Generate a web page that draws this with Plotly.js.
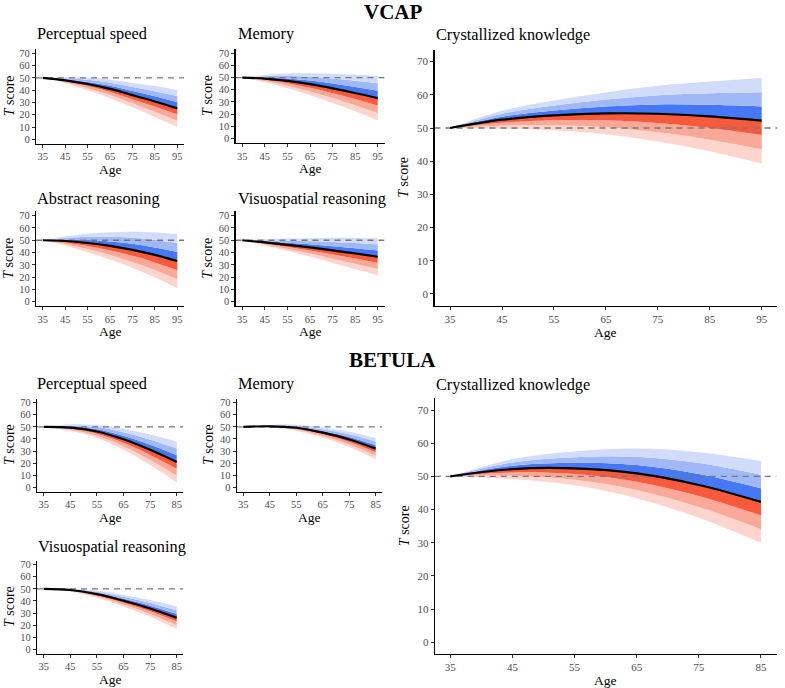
<!DOCTYPE html>
<html>
<head>
<meta charset="utf-8">
<script src="https://cdn.plot.ly/plotly-3.0.1.min.js"></script>
<style>html,body{margin:0;padding:0;background:#fff;}#chart{width:785px;height:688px;}</style>
</head>
<body>
<div id="chart"></div>
<script>
// ---------- Data ----------
const vcapAges = [35, 45, 55, 65, 75, 85, 95];
const betulaAges = [35, 45, 55, 65, 75, 85];
const vcapAgeTicks = [35, 45, 55, 65, 75, 85, 95];
const betulaAgeTicks = [35, 45, 55, 65, 75, 85];
const scoreTicks = [0, 10, 20, 30, 40, 50, 60, 70];
const referenceScore = 50;

// mean T score trajectory and width of one band step (bands at 1, 2, 3 steps)
const vcapPerceptualMean   = [50, 48.0, 45.0, 41.0, 36.0, 30.8, 25.2];
const vcapPerceptualSpread = [0, 0.8, 1.7, 2.5, 3.3, 4.2, 5.0];
const vcapMemoryMean       = [50, 49.2, 47.3, 44.6, 41.2, 37.4, 33.2];
const vcapMemorySpread     = [0, 1.0, 2.0, 3.0, 4.0, 5.0, 6.1];
const vcapAbstractMean     = [50, 49.4, 47.8, 45.4, 42.2, 38.1, 33.1];
const vcapAbstractSpread   = [0, 1.2, 2.5, 3.7, 4.9, 6.1, 7.4];
const vcapVisuoMean        = [50, 48.3, 46.3, 44.2, 41.8, 39.3, 36.6];
const vcapVisuoSpread      = [0, 0.85, 1.7, 2.5, 3.4, 4.2, 5.0];
const vcapCrystalMean      = [50, 52.5, 53.8, 54.4, 54.3, 53.5, 52.2];
const vcapCrystalSpread    = [0, 0.9, 1.5, 2.1, 2.8, 3.5, 4.3];

const betulaPerceptualMean   = [50, 49.4, 46.2, 39.7, 31.0, 20.9];
const betulaPerceptualSpread = [0, 0.9, 1.8, 2.9, 4.2, 5.65];
const betulaMemoryMean       = [50, 50.5, 49.3, 45.2, 39.6, 32.0];
const betulaMemorySpread     = [0, 0.35, 0.8, 1.4, 2.1, 2.9];
const betulaVisuoMean        = [50, 49.1, 45.6, 40.2, 33.8, 26.1];
const betulaVisuoSpread      = [0, 0.4, 1.0, 1.6, 2.3, 3.1];
const betulaCrystalMean      = [50, 52.2, 52.4, 50.9, 47.4, 42.3];
const betulaCrystalSpread    = [0, 1.0, 1.7, 2.5, 3.3, 4.1];

// ---------- Styling / layout ----------
const W = 785, H = 688;
const FONT = '"Liberation Serif", "Times New Roman", serif';
const redShades  = ['rgb(253,213,205)', 'rgb(250,168,152)', 'rgb(250,90,60)'];   // outer -> inner
const blueShades = ['rgb(70,120,245)', 'rgb(160,184,248)', 'rgb(208,220,250)'];  // inner -> outer

const panels = [
  {title:'Perceptual speed',       ages:vcapAges,   ticks:vcapAgeTicks,   mean:vcapPerceptualMean,   spread:vcapPerceptualSpread,   box:[36,184,49,143.6],     tx:35,  ty:34,  yt:9},
  {title:'Memory',                 ages:vcapAges,   ticks:vcapAgeTicks,   mean:vcapMemoryMean,       spread:vcapMemorySpread,       box:[235.5,384.5,49,142.8], tx:236, ty:34,  yt:208},
  {title:'Abstract reasoning',     ages:vcapAges,   ticks:vcapAgeTicks,   mean:vcapAbstractMean,     spread:vcapAbstractSpread,     box:[36,184,211.4,306],    tx:35,  ty:198, yt:9},
  {title:'Visuospatial reasoning', ages:vcapAges,   ticks:vcapAgeTicks,   mean:vcapVisuoMean,        spread:vcapVisuoSpread,        box:[235.5,384.5,211.4,306], tx:236, ty:198, yt:208},
  {title:'Crystallized knowledge', ages:vcapAges,   ticks:vcapAgeTicks,   mean:vcapCrystalMean,      spread:vcapCrystalSpread,      box:[434.5,777.3,50,305.6], tx:433.5, ty:35, yt:404, big:true},
  {title:'Perceptual speed',       ages:betulaAges, ticks:betulaAgeTicks, mean:betulaPerceptualMean, spread:betulaPerceptualSpread, box:[37,183.4,398.5,491.5], tx:35, ty:383.5, yt:9},
  {title:'Memory',                 ages:betulaAges, ticks:betulaAgeTicks, mean:betulaMemoryMean,     spread:betulaMemorySpread,     box:[236.7,382.3,398.5,491.5], tx:236, ty:383.5, yt:208},
  {title:'Visuospatial reasoning', ages:betulaAges, ticks:betulaAgeTicks, mean:betulaVisuoMean,      spread:betulaVisuoSpread,      box:[37,183.4,560.5,653.5], tx:36, ty:546, yt:9},
  {title:'Crystallized knowledge', ages:betulaAges, ticks:betulaAgeTicks, mean:betulaCrystalMean,    spread:betulaCrystalSpread,    box:[434.8,776.5,398.4,653.9], tx:433.5, ty:384, yt:404, big:true}
];

const px = p => p / W;
const py = p => 1 - p / H;
const expand = arr => {
  const lo = Math.min(...arr), hi = Math.max(...arr), d = (hi - lo) * 0.05;
  return [lo - d, hi + d];
};

const traces = [];
const layout = {
  width: W, height: H,
  margin: {l:0, r:0, t:0, b:0},
  paper_bgcolor: '#fff', plot_bgcolor: '#fff',
  showlegend: false,
  font: {family: FONT, color: '#000'},
  annotations: []
};

panels.forEach((p, i) => {
  const n = i + 1;
  const xa = n === 1 ? 'x' : 'x' + n;
  const ya = n === 1 ? 'y' : 'y' + n;
  const xr = expand(p.ages);
  const band = k => p.mean.map((m, j) => m + k * p.spread[j]);
  const common = {x: p.ages, xaxis: xa, yaxis: ya, mode: 'lines', hoverinfo: 'skip',
                  line: {width: 0, shape: 'spline', smoothing: 1}};
  // lower bands (red) and upper bands (blue)
  traces.push(Object.assign({}, common, {y: band(-3)}));
  traces.push(Object.assign({}, common, {y: band(-2), fill: 'tonexty', fillcolor: redShades[0]}));
  traces.push(Object.assign({}, common, {y: band(-1), fill: 'tonexty', fillcolor: redShades[1]}));
  traces.push(Object.assign({}, common, {y: band(0),  fill: 'tonexty', fillcolor: redShades[2]}));
  traces.push(Object.assign({}, common, {y: band(1),  fill: 'tonexty', fillcolor: blueShades[0]}));
  traces.push(Object.assign({}, common, {y: band(2),  fill: 'tonexty', fillcolor: blueShades[1]}));
  traces.push(Object.assign({}, common, {y: band(3),  fill: 'tonexty', fillcolor: blueShades[2]}));
  // reference line
  traces.push({x: xr, y: [referenceScore, referenceScore], xaxis: xa, yaxis: ya, mode: 'lines',
               hoverinfo: 'skip', line: {color: 'rgb(120,120,120)', width: 1.3, dash: '6px,5px'}});
  // mean trajectory
  traces.push({x: p.ages, y: p.mean, xaxis: xa, yaxis: ya, mode: 'lines', hoverinfo: 'skip',
               line: {color: '#000', width: 2.2, shape: 'spline', smoothing: 1}});

  const tickFont = {family: FONT, size: p.big ? 11 : 10.5, color: '#4d4d4d'};
  const axisCommon = {showline: true, linecolor: '#000', linewidth: 1.2, ticks: 'outside',
                      ticklen: 3, tickwidth: 1, tickcolor: '#333', showgrid: false,
                      zeroline: false, tickfont: tickFont, fixedrange: true};
  layout['xaxis' + (n === 1 ? '' : n)] = Object.assign({}, axisCommon, {
    domain: [px(p.box[0]), px(p.box[1])], anchor: ya, range: xr,
    tickmode: 'array', tickvals: p.ticks, ticktext: p.ticks.map(String)
  });
  layout['yaxis' + (n === 1 ? '' : n)] = Object.assign({}, axisCommon, {
    domain: [py(p.box[3]), py(p.box[2])], anchor: xa, range: expand(scoreTicks),
    tickmode: 'array', tickvals: scoreTicks, ticktext: scoreTicks.map(String)
  });

  // panel title
  layout.annotations.push({text: p.title, xref: 'paper', yref: 'paper', x: px(p.tx), y: py(p.ty),
    xanchor: 'left', yanchor: 'middle', showarrow: false, font: {family: FONT, size: 16.3, color: '#000'}});
  // axis titles
  layout.annotations.push({text: '<i>T</i> score', xref: 'paper', yref: 'paper', x: px(p.yt),
    y: py((p.box[2] + p.box[3]) / 2), xanchor: 'center', yanchor: 'middle', textangle: -90,
    showarrow: false, font: {family: FONT, size: 14, color: '#000'}});
  layout.annotations.push({text: 'Age', xref: 'paper', yref: 'paper', x: px((p.box[0] + p.box[1]) / 2),
    y: py(p.box[3] + (p.big ? 27 : 25.5)), xanchor: 'center', yanchor: 'middle', showarrow: false,
    font: {family: FONT, size: 13.5, color: '#000'}});
});

// section titles
layout.annotations.push({text: '<b>VCAP</b>', xref: 'paper', yref: 'paper', x: px(392.5), y: py(12.5),
  xanchor: 'center', yanchor: 'middle', showarrow: false, font: {family: FONT, size: 21, color: '#000'}});
layout.annotations.push({text: '<b>BETULA</b>', xref: 'paper', yref: 'paper', x: px(392.5), y: py(360),
  xanchor: 'center', yanchor: 'middle', showarrow: false, font: {family: FONT, size: 21, color: '#000'}});

Plotly.newPlot('chart', traces, layout, {staticPlot: true, displayModeBar: false});
</script>
</body>
</html>
